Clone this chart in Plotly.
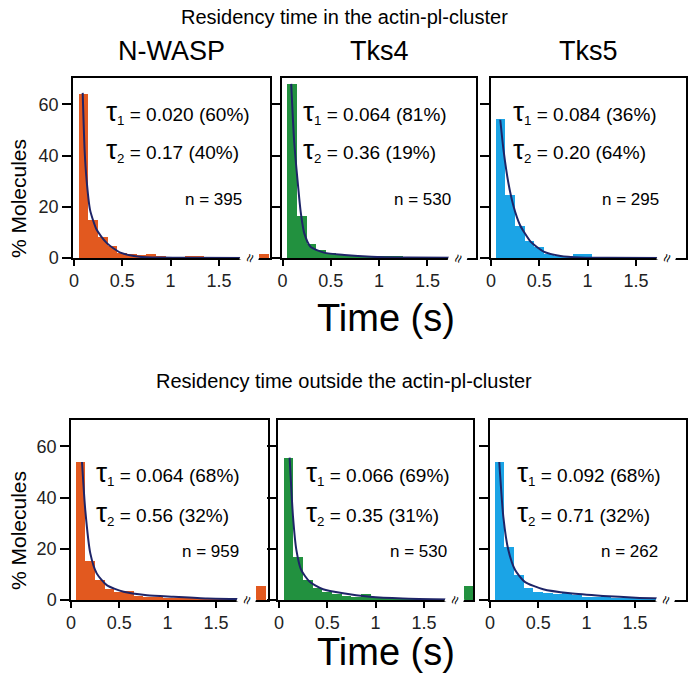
import plotly.graph_objects as go

W, H = 688, 680

# ---------------- data ----------------
bin_centers = [0.1, 0.2, 0.3, 0.4, 0.5, 0.6, 0.7, 0.8, 0.9, 1.0, 1.1, 1.2, 1.3, 1.4, 1.5, 1.6, 1.7]
last_bin = 1.97  # the "beyond break" bin

proteins = ["N-WASP", "Tks4", "Tks5"]

# top row: inside the actin-pl-cluster
in_nwasp = [64.0, 14.9, 8.2, 4.5, 2.0, 1.5, 1.0, 1.4, 0.4, 0.3, 0.2, 0.5, 0.5, 0.2, 0.0, 0.0, 0.0]
in_nwasp_last = 1.6
in_tks4 = [67.8, 16.5, 5.6, 3.1, 2.1, 1.6, 0.9, 0.8, 0.6, 0.5, 0.4, 0.4, 0.3, 0.2, 0.2, 0.1, 0.1]
in_tks4_last = 0.0
in_tks5 = [54.3, 24.7, 12.5, 6.6, 4.3, 1.6, 0.8, 0.7, 1.4, 1.4, 0.2, 0.1, 0.0, 0.0, 0.0, 0.0, 0.0]
in_tks5_last = 0.0

# bottom row: outside the actin-pl-cluster
out_nwasp = [53.9, 15.2, 8.0, 4.2, 3.2, 3.6, 1.5, 1.2, 1.0, 0.8, 0.6, 0.5, 0.4, 0.3, 0.3, 0.2, 0.2]
out_nwasp_last = 5.5
out_tks4 = [55.6, 16.9, 8.0, 4.5, 3.0, 2.2, 1.7, 1.3, 2.2, 1.0, 0.6, 0.4, 0.3, 0.2, 0.2, 0.2, 0.2]
out_tks4_last = 5.5
out_tks5 = [53.9, 20.8, 9.7, 4.8, 3.2, 2.6, 2.2, 2.6, 1.8, 1.3, 1.0, 1.7, 0.6, 0.4, 0.4, 0.4, 0.3]
out_tks5_last = 0.0

# fitted curves (time, %)
fit_in_nwasp_t = [0.09, 0.11, 0.13, 0.166, 0.235, 0.34, 0.48, 0.68, 0.9, 1.2, 1.78]
fit_in_nwasp_y = [64.5, 42.0, 30.6, 18.8, 11.0, 5.8, 2.1, 0.5, 0.15, 0.05, 0.0]
fit_in_tks4_t = [0.09, 0.12, 0.155, 0.19, 0.225, 0.29, 0.43, 0.64, 0.92, 1.3, 1.78]
fit_in_tks4_y = [68.0, 46.0, 30.6, 17.5, 9.7, 4.4, 2.1, 1.2, 0.5, 0.2, 0.1]
fit_in_tks5_t = [0.096, 0.13, 0.18, 0.234, 0.30, 0.41, 0.545, 0.72, 0.92, 1.2, 1.78]
fit_in_tks5_y = [54.0, 42.0, 29.3, 20.1, 12.9, 6.4, 2.5, 0.8, 0.2, 0.05, 0.0]
fit_out_nwasp_t = [0.114, 0.148, 0.2, 0.266, 0.37, 0.545, 0.787, 1.06, 1.41, 1.78]
fit_out_nwasp_y = [53.9, 35.0, 18.2, 10.4, 5.8, 3.2, 1.9, 1.3, 0.6, 0.4]
fit_out_tks4_t = [0.11, 0.145, 0.18, 0.23, 0.318, 0.456, 0.664, 0.94, 1.28, 1.78]
fit_out_tks4_y = [55.6, 32.5, 19.5, 11.7, 7.1, 4.2, 2.6, 1.3, 0.6, 0.2]
fit_out_tks5_t = [0.096, 0.138, 0.19, 0.26, 0.36, 0.55, 0.83, 1.17, 1.51, 1.78]
fit_out_tks5_y = [53.9, 32.5, 19.5, 11.7, 7.1, 4.2, 2.6, 1.6, 0.9, 0.6]

tau_in = [("0.020", "60%", "0.17", "40%"), ("0.064", "81%", "0.36", "19%"), ("0.084", "36%", "0.20", "64%")]
tau_out = [("0.064", "68%", "0.56", "32%"), ("0.066", "69%", "0.35", "31%"), ("0.092", "68%", "0.71", "32%")]
n_in = [395, 530, 295]
n_out = [959, 530, 262]

x_ticks = [0, 0.5, 1, 1.5]
x_ticklabels = ["0", "0.5", "1", "1.5"]
y_ticks = [0, 20, 40, 60]

colors = ["#E2591F", "#22913F", "#1BA4E6"]
curve_color = "#1E2467"
FONT = "Liberation Sans, Arial, sans-serif"

# ---------------- layout geometry (pixels) ----------------
PX_PER_UNIT = 96.6
# (left, right, x_of_zero) for each panel, top row then bottom row
top_cols = [(73, 270, 74), (282, 476, 282.5), (491, 686, 491)]
bot_cols = [(71, 268, 71), (278, 473, 279), (490, 686, 490)]
top_rows = (78, 258)
bot_rows = (420, 600)
YMAX = 70.3

fig = go.Figure()

panels = [
    (in_nwasp, in_nwasp_last, fit_in_nwasp_t, fit_in_nwasp_y, 0, 0),
    (in_tks4, in_tks4_last, fit_in_tks4_t, fit_in_tks4_y, 1, 0),
    (in_tks5, in_tks5_last, fit_in_tks5_t, fit_in_tks5_y, 2, 0),
    (out_nwasp, out_nwasp_last, fit_out_nwasp_t, fit_out_nwasp_y, 0, 1),
    (out_tks4, out_tks4_last, fit_out_tks4_t, fit_out_tks4_y, 1, 1),
    (out_tks5, out_tks5_last, fit_out_tks5_t, fit_out_tks5_y, 2, 1),
]

annotations = []
for i, (vals, last, ft, fy, col, row) in enumerate(panels):
    k = i + 1
    xa = "x" if k == 1 else f"x{k}"
    ya = "y" if k == 1 else f"y{k}"
    left, right, zero = (top_cols if row == 0 else bot_cols)[col]
    ytop, ybot = top_rows if row == 0 else bot_rows
    x0 = -(zero - left) / PX_PER_UNIT
    x1 = x0 + (right - left) / PX_PER_UNIT

    fig.add_trace(go.Bar(x=bin_centers + [last_bin], y=vals + [last], width=0.1,
                         marker=dict(color=colors[col], line=dict(width=0)),
                         xaxis=xa, yaxis=ya, showlegend=False))
    fig.add_trace(go.Scatter(x=ft, y=fy, mode="lines", line=dict(color=curve_color, width=2, shape="spline", smoothing=0.6),
                             xaxis=xa, yaxis=ya, showlegend=False))

    axx = dict(domain=[left / W, right / W], range=[x0, x1], anchor=ya, automargin=False,
               tickvals=x_ticks, ticktext=x_ticklabels, ticks="outside", ticklen=6,
               tickwidth=1.5, tickcolor="black", showline=True, linecolor="black",
               linewidth=1.5, mirror=True, showgrid=False, zeroline=False,
               tickfont=dict(family=FONT, size=18, color="#222"), fixedrange=True)
    axy = dict(domain=[1 - ybot / H, 1 - ytop / H], range=[0, YMAX], anchor=xa, automargin=False,
               tickvals=y_ticks, ticks="outside", ticklen=9, tickwidth=1.5,
               tickcolor="black", showline=True, linecolor="black", linewidth=1.5,
               mirror=True, showgrid=False, zeroline=False, showticklabels=(col == 0),
               tickfont=dict(family=FONT, size=18, color="#222"), fixedrange=True)
    fig.update_layout(**{("xaxis" if k == 1 else f"xaxis{k}"): axx,
                         ("yaxis" if k == 1 else f"yaxis{k}"): axy})

    # tau texts
    t = (tau_in if row == 0 else tau_out)[col]
    nval = (n_in if row == 0 else n_out)[col]
    if row == 0:
        ty1, ty2, tyn = [57.0, 42.0, 23.0]
        tx = [0.31, 0.19, 0.21][col]
    else:
        ty1, ty2, tyn = [49.5, 34.0, 19.1]
        tx = [0.24, 0.26, 0.26][col]
    annotations.append(dict(x=tx, y=ty1, xref=xa, yref=ya, xanchor="left", yanchor="middle", showarrow=False,
                            text=f"<span style='font-size:28px'>τ</span><sub>1</sub> = {t[0]} ({t[1]})",
                            font=dict(family=FONT, size=19, color="black")))
    annotations.append(dict(x=tx, y=ty2, xref=xa, yref=ya, xanchor="left", yanchor="middle", showarrow=False,
                            text=f"<span style='font-size:28px'>τ</span><sub>2</sub> = {t[2]} ({t[3]})",
                            font=dict(family=FONT, size=19, color="black")))
    annotations.append(dict(x=1.76, y=tyn, xref=xa, yref=ya, xanchor="right", yanchor="middle", showarrow=False,
                            text=f"n = {nval}", font=dict(family=FONT, size=17, color="black")))
    # axis break mark
    annotations.append(dict(x=1.81, y=0, xref=xa, yref=ya, xanchor="center", yanchor="middle", showarrow=False,
                            text="≈", textangle=-70, font=dict(family=FONT, size=15, color="black"),
                            bgcolor="white", borderpad=0))

def paper_text(xpx, ypx, text, size, angle=0):
    return dict(x=xpx / W, y=1 - ypx / H, xref="paper", yref="paper", xanchor="center", yanchor="middle",
                showarrow=False, textangle=angle, text=text, font=dict(family=FONT, size=size, color="black"))

# titles
annotations.append(paper_text(344, 17, "Residency time in the actin-pl-cluster", 20))
annotations.append(paper_text(344, 381, "Residency time outside the actin-pl-cluster", 20))
for col, name in enumerate(proteins):
    left, right, _ = top_cols[col]
    annotations.append(paper_text((left + right) / 2, 51, name, 27))
for yc in (199, 531):
    annotations.append(paper_text(18, yc, "% Molecules", 21, angle=-90))
for yc in (318, 652):
    annotations.append(paper_text(386, yc, "Time (s)", 38))

fig.update_layout(width=W, height=H, margin=dict(l=0, r=0, t=0, b=0), template="none",
                  paper_bgcolor="white", plot_bgcolor="white", bargap=0,
                  annotations=annotations, showlegend=False)

fig.write_html("out.html", config={"displayModeBar": False},
               post_script="document.body.style.margin='0';document.body.style.padding='0';document.body.style.overflow='hidden';")
